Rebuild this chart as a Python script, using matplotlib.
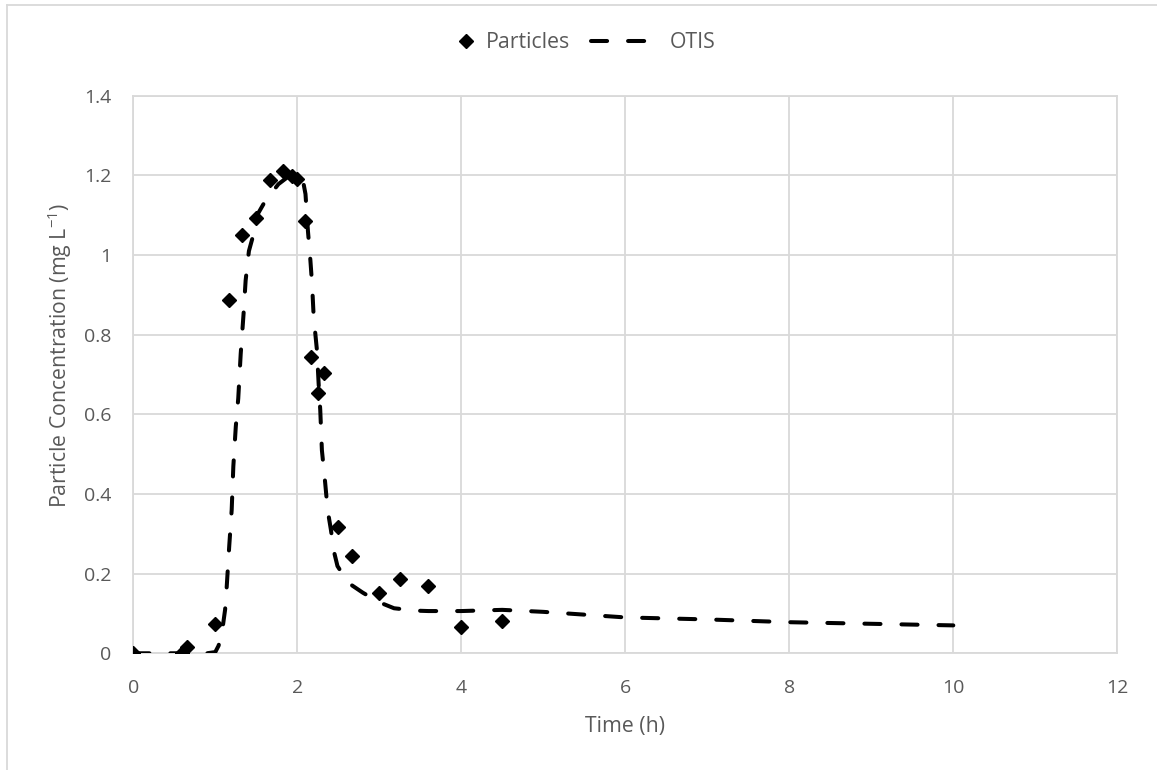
import matplotlib
matplotlib.use('Agg')
import matplotlib.pyplot as plt
from matplotlib.lines import Line2D
from matplotlib.legend_handler import HandlerLine2D
import numpy as np

# measured particle concentrations
particle_time = [0, 0.59, 0.66, 1.0, 1.17, 1.33, 1.5, 1.67, 1.83, 1.93, 2.0, 2.09,
                 2.17, 2.25, 2.33, 2.5, 2.67, 3.0, 3.25, 3.59, 4.0, 4.5]
particle_conc = [0, 0, 0.015, 0.073, 0.888, 1.05, 1.094, 1.188, 1.21, 1.198, 1.19, 1.086,
                 0.744, 0.653, 0.704, 0.316, 0.244, 0.151, 0.186, 0.169, 0.065, 0.081]

# OTIS model curve
otis_time = [0, 0.5, 0.9, 1.0, 1.04, 1.08, 1.12, 1.14, 1.17, 1.2, 1.22, 1.25, 1.28,
             1.31, 1.345, 1.37, 1.41, 1.45, 1.51, 1.61, 1.77, 1.91, 2.01, 2.07, 2.1,
             2.13, 2.16, 2.18, 2.2, 2.24, 2.26, 2.28, 2.3, 2.34, 2.37, 2.41, 2.45,
             2.49, 2.62, 2.8, 3.0, 3.18, 3.45, 3.6, 4.0, 4.5, 5.0, 5.5, 6.0, 7.0,
             8.0, 9.0, 10.0]
otis_conc = [0, 0, 0, 0.003, 0.019, 0.05, 0.11, 0.169, 0.269, 0.36, 0.469, 0.569, 0.64,
             0.752, 0.853, 0.936, 1.01, 1.04, 1.10, 1.136, 1.178, 1.2, 1.194, 1.186, 1.153,
             1.06, 0.986, 0.928, 0.844, 0.76, 0.678, 0.611, 0.51, 0.428, 0.36, 0.31, 0.253,
             0.219, 0.177, 0.152, 0.128, 0.113, 0.107, 0.106, 0.106, 0.109, 0.104, 0.097,
             0.09, 0.085, 0.078, 0.074, 0.07]

x_ticks = [0, 2, 4, 6, 8, 10, 12]
y_ticks = [0, 0.2, 0.4, 0.6, 0.8, 1.0, 1.2, 1.4]
y_tick_labels = ['0', '0.2', '0.4', '0.6', '0.8', '1', '1.2', '1.4']

plt.rcParams['font.family'] = ['Open Sans', 'DejaVu Sans']
plt.rcParams['mathtext.fontset'] = 'custom'
plt.rcParams['mathtext.rm'] = 'Open Sans'
plt.rcParams['mathtext.it'] = 'Open Sans'

grey = '#595959'
grid = '#D9D9D9'


class MarkerNearText(HandlerLine2D):
    # puts the marker close to its label instead of centred in the handle box
    def create_artists(self, legend, orig_handle, xdescent, ydescent, width, height,
                       fontsize, trans):
        artists = super().create_artists(legend, orig_handle, xdescent, ydescent,
                                         width, height, fontsize, trans)
        for a in artists:
            a.set_xdata(np.asarray(a.get_xdata()) + width / 2 - 3.6)
        return artists


fig = plt.figure(figsize=(11.57, 7.70), dpi=100)
ax1 = fig.add_axes([0.1152, 0.1516, 0.8505, 0.7241])

pts, = ax1.plot(particle_time, particle_conc, linestyle='none', marker='D', markersize=7.5,
                color='black', label='Particles', zorder=3)
ax1.plot(otis_time, otis_conc, color='black', linewidth=2.9, dashes=(4, 5.2),
         dash_capstyle='round', label='OTIS', zorder=4)

ax1.set_xlim(0, 12)
ax1.set_ylim(0, 1.4)
ax1.set_xticks(x_ticks)
ax1.set_yticks(y_ticks)
ax1.set_yticklabels(y_tick_labels)
ax1.grid(True, color=grid, linewidth=1.3)
ax1.set_axisbelow(True)
for s in ax1.spines.values():
    s.set_color(grid)
    s.set_linewidth(1.3)
ax1.tick_params(length=0, labelsize=14, colors=grey)
ax1.tick_params(axis='x', pad=18.3)
ax1.tick_params(axis='y', pad=15.7)

ax1.set_xlabel('Time (h)', fontsize=15.3, color=grey, labelpad=14)
ax1.set_ylabel(r'Particle Concentration (mg L$^{-1}$)', fontsize=15.3, color=grey,
               labelpad=7)
ax1.yaxis.label.set_y(0.534)

leg = ax1.legend(loc='center left', bbox_to_anchor=(0.3354, 1.0 - 43 / 770),
                 bbox_transform=fig.transFigure, ncol=2, frameon=False, fontsize=15.3,
                 handlelength=3.0, columnspacing=1.0, handletextpad=0.7,
                 handler_map={pts: MarkerNearText()})
for t in leg.get_texts():
    t.set_color(grey)

# chart border (top and left edges)
fig.add_artist(Line2D([0.006, 0.006], [0, 0.9929], transform=fig.transFigure,
                      color=grid, linewidth=1.3))
fig.add_artist(Line2D([0.006, 1.0], [0.9929, 0.9929], transform=fig.transFigure,
                      color=grid, linewidth=1.3))

fig.savefig('out.png', dpi=100)
